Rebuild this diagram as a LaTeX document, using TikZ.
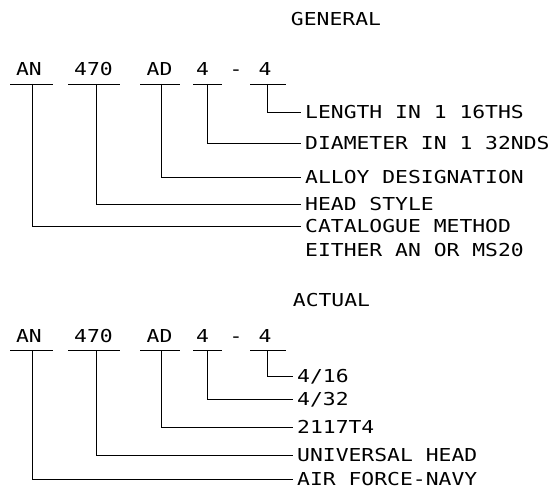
\documentclass[tikz,border=0pt]{standalone}
\usepackage{fontspec}
\usepackage{tikz}
\usetikzlibrary{positioning}
\newfontfamily\cadfont[FakeStretch=1.2]{DejaVu Sans Mono}
\newcommand{\cadtext}{\cadfont\fontsize{17.8pt}{20pt}\selectfont}

\begin{document}
\begin{tikzpicture}[
      x=1pt, y=-1pt,
      part/.style={font=\cadtext, inner sep=0pt, text height=13pt, text depth=0pt},
      callout/.style={part, anchor=west, inner xsep=4pt},
      lead/.style={line width=0.9pt}
  ]
    \useasboundingbox (0,0) rectangle (549,489);

    % --- General form of the rivet code ---
    \node[part] (general) at (336,19) {GENERAL};
    \node[part] (g-an)   at (29,69.5)    {AN};
    \node[part] (g-num)  at (93.5,69.5)  {470};
    \node[part] (g-ad)   at (159.5,69.5) {AD};
    \node[part] (g-dia)  at (202.5,69.5) {4};
    \node[part] (g-dash) at (236,69.5)   {-};
    \node[part] (g-len)  at (265,69.5)   {4};

    \node[callout] (g-length)    at (301,112) {LENGTH IN 1 16THS};
    \node[callout] (g-diameter)  at (301,143) {DIAMETER IN 1 32NDS};
    \node[callout] (g-alloy)     at (301,177) {ALLOY DESIGNATION};
    \node[callout] (g-head)      at (301,204) {HEAD STYLE};
    \node[callout] (g-catalogue) at (301,226) {CATALOGUE METHOD};
    \node[callout, below=11pt of g-catalogue.south west, anchor=north west]
      (g-either) {EITHER AN OR MS20};

    % underlines, with a foot for each leader
    \foreach \id/\l/\r/\s in {an/10/53/32, num/68/120/96, ad/140/180/161,
                              dia/193/222/207.5, len/250/286/267.5} {
      \draw[lead] (\l,84) -- (\r,84);
      \coordinate (g-\id-foot) at (\s,84);
    }
    \draw[lead] (g-len-foot) |- (g-length.west);
    \draw[lead] (g-dia-foot) |- (g-diameter.west);
    \draw[lead] (g-ad-foot)  |- (g-alloy.west);
    \draw[lead] (g-num-foot) |- (g-head.west);
    \draw[lead] (g-an-foot)  |- (g-catalogue.west);

    % --- Actual rivet ---
    \node[part] (actual) at (331.5,300) {ACTUAL};
    \node[part] (a-an)   at (29,336)    {AN};
    \node[part] (a-num)  at (93.5,336)  {470};
    \node[part] (a-ad)   at (159.5,336) {AD};
    \node[part] (a-dia)  at (202.5,336) {4};
    \node[part] (a-dash) at (236,336)   {-};
    \node[part] (a-len)  at (265,336)   {4};

    \node[callout] (a-length)   at (293,376) {4/16};
    \node[callout] (a-diameter) at (293,399) {4/32};
    \node[callout] (a-alloy)    at (293,427) {2117T4};
    \node[callout] (a-head)     at (293,455) {UNIVERSAL HEAD};
    \node[callout] (a-maker)    at (293,479) {AIR FORCE-NAVY};

    \foreach \id/\l/\r/\s in {an/10/53/32, num/68/120/96, ad/140/180/161,
                              dia/193/222/207.5, len/250/286/267.5} {
      \draw[lead] (\l,350.5) -- (\r,350.5);
      \coordinate (a-\id-foot) at (\s,350.5);
    }
    \draw[lead] (a-len-foot) |- (a-length.west);
    \draw[lead] (a-dia-foot) |- (a-diameter.west);
    \draw[lead] (a-ad-foot)  |- (a-alloy.west);
    \draw[lead] (a-num-foot) |- (a-head.west);
    \draw[lead] (a-an-foot)  |- (a-maker.west);

  \end{tikzpicture}
\end{document}
